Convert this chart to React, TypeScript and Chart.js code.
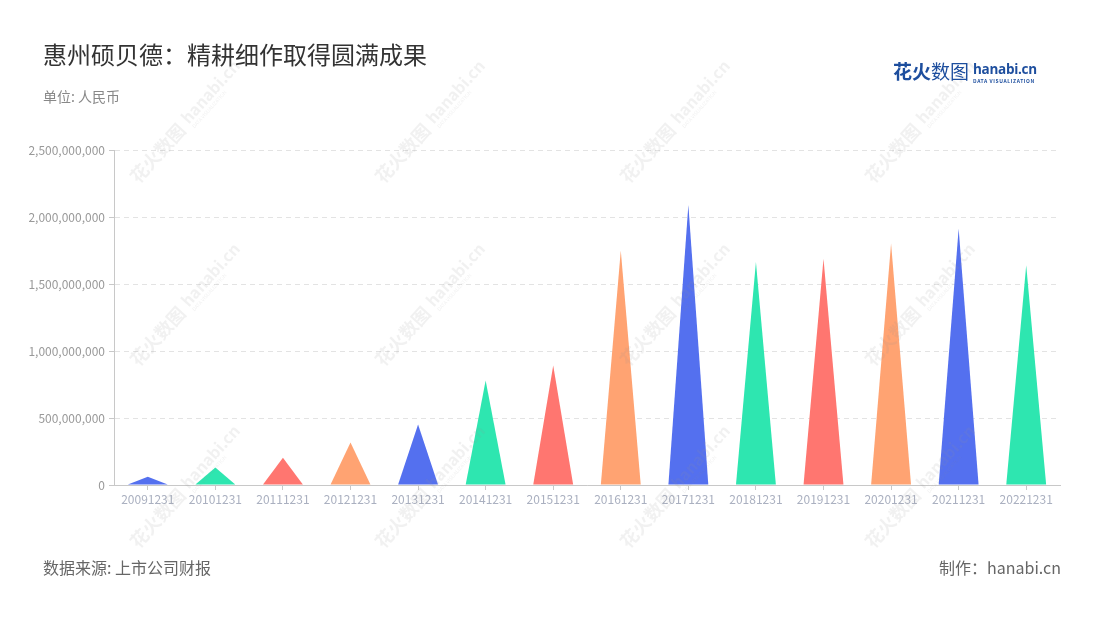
import React, { useEffect, useRef } from "react";
import { Chart, registerables } from "chart.js";

Chart.register(...registerables);

const categories = [
  "20091231", "20101231", "20111231", "20121231", "20131231", "20141231", "20151231",
  "20161231", "20171231", "20181231", "20191231", "20201231", "20211231", "20221231",
];
const revenue = [
  62000000, 130000000, 203000000, 318000000, 452000000, 780000000, 892000000,
  1750000000, 2090000000, 1664000000, 1689000000, 1802000000, 1912000000, 1639000000,
];
const palette = ["#5470ef", "#2ee6b0", "#ff7670", "#ffa372"];
const yTicks = [0, 500000000, 1000000000, 1500000000, 2000000000, 2500000000];

const FONT = "'Noto Sans CJK SC', 'Noto Sans', sans-serif";

const trianglePlugin = {
  id: "triangles",
  afterDatasetsDraw(chart: any) {
    const ctx = chart.ctx;
    const meta = chart.getDatasetMeta(0);
    ctx.save();
    meta.data.forEach((el: any, i: number) => {
      const { x, y, base, width } = el.getProps(["x", "y", "base", "width"], true);
      ctx.beginPath();
      ctx.moveTo(x - width / 2, base);
      ctx.lineTo(x, y);
      ctx.lineTo(x + width / 2, base);
      ctx.closePath();
      ctx.fillStyle = palette[i % palette.length];
      ctx.fill();
    });
    ctx.restore();
  },
};

const watermarkPlugin = {
  id: "watermark",
  afterDraw(chart: any) {
    const ctx = chart.ctx;
    const cols = [183, 428, 673, 918];
    const rows = [125, 308, 490];
    ctx.save();
    cols.forEach((cx) => {
      rows.forEach((cy) => {
        ctx.save();
        ctx.translate(cx, cy);
        ctx.rotate((-48 * Math.PI) / 180);
        ctx.fillStyle = "rgba(150,150,150,0.13)";
        ctx.textBaseline = "middle";
        ctx.font = `bold 18px ${FONT}`;
        ctx.textAlign = "right";
        ctx.fillText("花火数图", -2, 0);
        ctx.textAlign = "left";
        ctx.font = `bold 16px ${FONT}`;
        ctx.fillText("hanabi.cn", 4, -2);
        ctx.font = `5px ${FONT}`;
        ctx.fillText("DATA VISUALIZATION", 5, 9);
        ctx.restore();
      });
    });
    ctx.restore();
  },
};

export default function App() {
  const canvasRef = useRef<HTMLCanvasElement>(null);

  useEffect(() => {
    if (!canvasRef.current) return;
    const chart = new Chart(canvasRef.current, {
      type: "bar",
      data: {
        labels: categories,
        datasets: [
          {
            data: revenue,
            backgroundColor: "rgba(0,0,0,0)",
            borderWidth: 0,
            categoryPercentage: 1,
            barPercentage: 0.59,
          },
        ],
      },
      options: {
        animation: false,
        responsive: false,
        maintainAspectRatio: false,
        layout: { padding: { left: 0, right: 40, top: 150, bottom: 0 } },
        plugins: {
          legend: { display: false },
          tooltip: { enabled: false },
        },
        scales: {
          x: {
            afterFit: (s: any) => {
              s.height = 135;
            },
            grid: {
              display: true,
              drawOnChartArea: false,
              drawTicks: true,
              tickLength: 5,
              tickColor: "#c8c8c8",
              offset: false,
            },
            border: { color: "#c8c8c8", width: 1 },
            ticks: {
              color: "#aab0c0",
              font: { family: FONT, size: 12 },
              padding: 2,
              maxRotation: 0,
              autoSkip: false,
            },
          },
          y: {
            min: 0,
            max: 2500000000,
            afterFit: (s: any) => {
              s.width = 114;
            },
            afterBuildTicks: (s: any) => {
              s.ticks = yTicks.map((v) => ({ value: v }));
            },
            grid: {
              color: "#e3e3e3",
              lineWidth: 1,
              drawTicks: true,
              tickLength: 5,
              tickColor: "#c8c8c8",
              tickBorderDash: [],
            },
            border: { color: "#c8c8c8", width: 1, dash: [5, 4] },
            ticks: {
              color: "#999999",
              font: { family: FONT, size: 12 },
              padding: 4,
              callback: (v: any) => Number(v).toLocaleString("en-US"),
            },
          },
        },
      },
      plugins: [trianglePlugin, watermarkPlugin],
    });
    return () => chart.destroy();
  }, []);

  return (
    <div
      style={{
        position: "fixed",
        left: 0,
        top: 0,
        width: 1100,
        height: 620,
        background: "#ffffff",
        fontFamily: FONT,
        overflow: "hidden",
      }}
    >
      <canvas
        ref={canvasRef}
        width={1100}
        height={620}
        style={{ position: "absolute", left: 0, top: 0, width: 1100, height: 620 }}
      />
      <div
        style={{
          position: "absolute",
          left: 43,
          top: 37,
          fontSize: 24,
          color: "#333333",
          lineHeight: "34px",
          whiteSpace: "nowrap",
        }}
      >
        惠州硕贝德：精耕细作取得圆满成果
      </div>
      <div
        style={{
          position: "absolute",
          left: 43,
          top: 86,
          fontSize: 14,
          color: "#888888",
          lineHeight: "20px",
        }}
      >
        单位: 人民币
      </div>
      <div
        style={{
          position: "absolute",
          left: 893,
          top: 58,
          display: "flex",
          alignItems: "flex-start",
          whiteSpace: "nowrap",
        }}
      >
        <span style={{ fontSize: 19, fontWeight: 700, color: "#1d4e9e", lineHeight: "26px" }}>
          花火<span style={{ fontWeight: 400 }}>数图</span>
        </span>
        <span style={{ display: "flex", flexDirection: "column", marginLeft: 4, marginTop: 3 }}>
          <span style={{ fontSize: 13.5, fontWeight: 700, color: "#1d4e9e", lineHeight: "16px", fontFamily: "'Open Sans', sans-serif", letterSpacing: -0.3 }}>
            hanabi.cn
          </span>
          <span style={{ fontSize: 5, color: "#1d4e9e", lineHeight: "7px", letterSpacing: 0.6, fontWeight: 700 }}>
            DATA VISUALIZATION
          </span>
        </span>
      </div>
      <div
        style={{
          position: "absolute",
          left: 43,
          top: 556,
          fontSize: 16,
          color: "#666666",
          lineHeight: "22px",
        }}
      >
        数据来源: 上市公司财报
      </div>
      <div
        style={{
          position: "absolute",
          right: 39,
          top: 556,
          fontSize: 16,
          color: "#666666",
          lineHeight: "22px",
        }}
      >
        制作：hanabi.cn
      </div>
    </div>
  );
}
